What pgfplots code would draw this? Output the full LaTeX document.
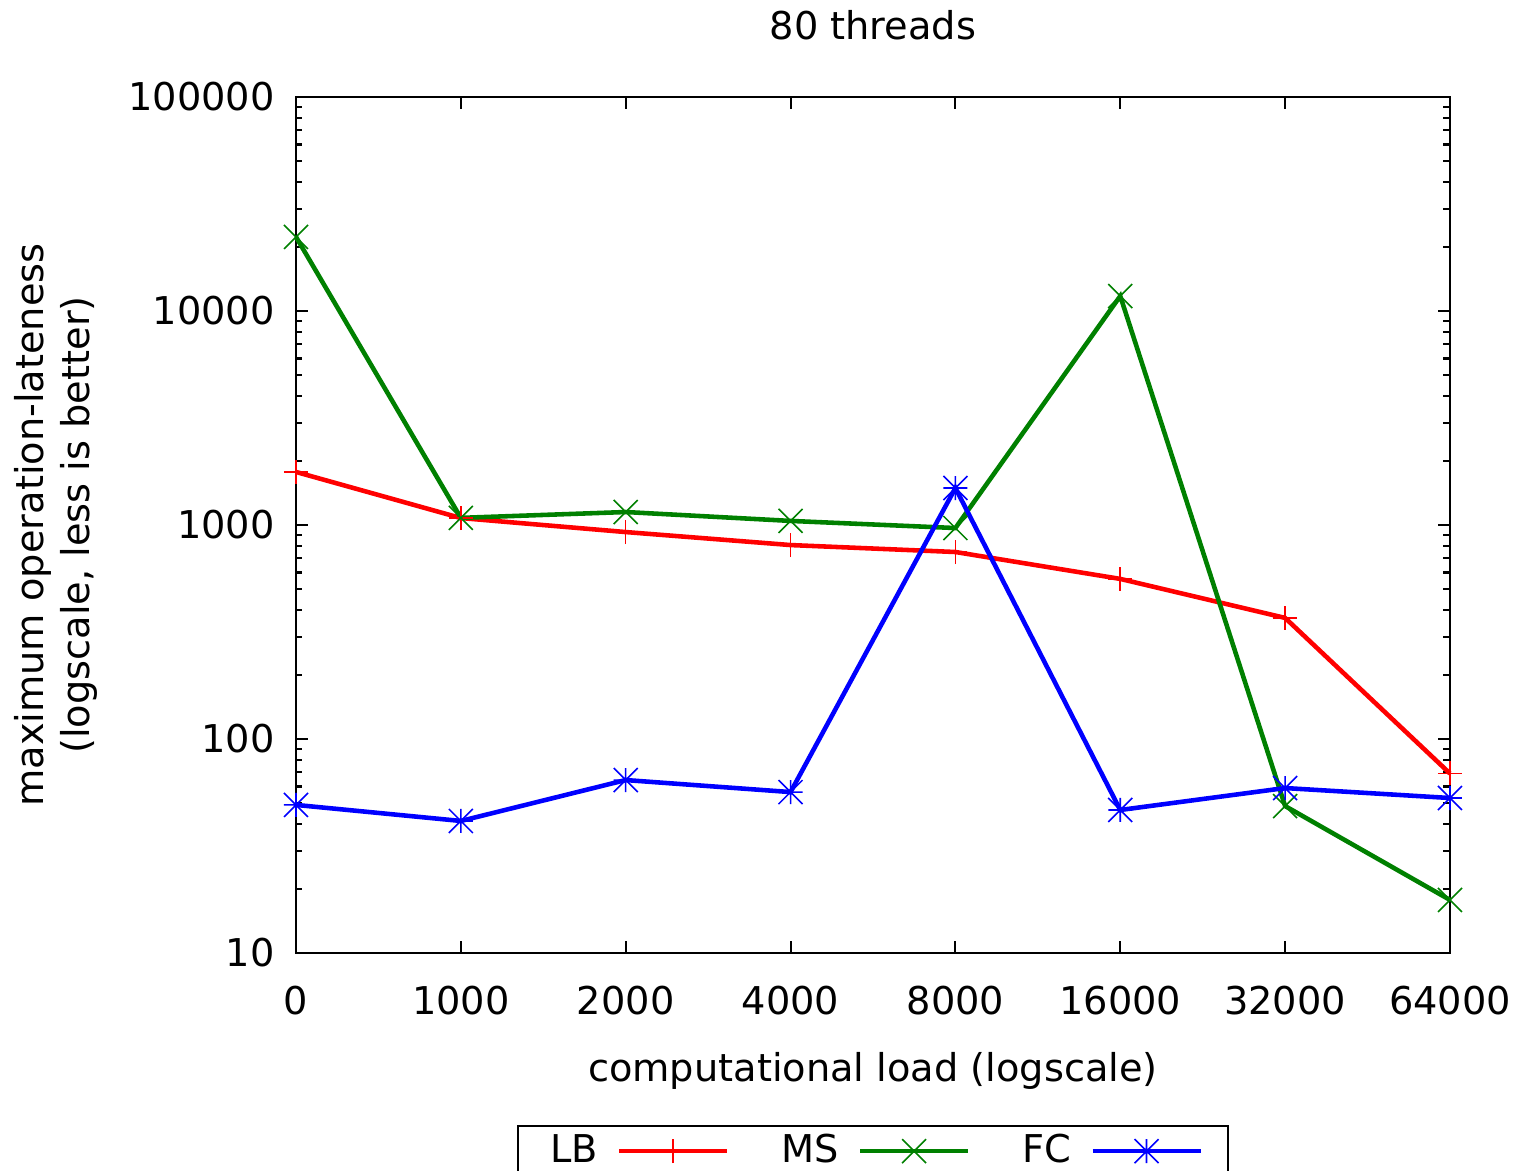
\documentclass[border=0pt]{standalone}
\usepackage{fontspec}
\setmainfont{DejaVu Sans}
\usepackage{pgfplots}
\pgfplotsset{compat=1.18}

\definecolor{gpred}{HTML}{FF0000}
\definecolor{gpgreen}{HTML}{008000}
\definecolor{gpblue}{HTML}{0000FF}

% gnuplot style point marks
\pgfdeclareplotmark{gpplus}{%
  \pgfpathmoveto{\pgfqpoint{-\pgfplotmarksize}{0pt}}\pgfpathlineto{\pgfqpoint{\pgfplotmarksize}{0pt}}%
  \pgfpathmoveto{\pgfqpoint{0pt}{-\pgfplotmarksize}}\pgfpathlineto{\pgfqpoint{0pt}{\pgfplotmarksize}}%
  \pgfusepathqstroke}
\pgfdeclareplotmark{gpcross}{%
  \pgfpathmoveto{\pgfqpoint{-\pgfplotmarksize}{-\pgfplotmarksize}}\pgfpathlineto{\pgfqpoint{\pgfplotmarksize}{\pgfplotmarksize}}%
  \pgfpathmoveto{\pgfqpoint{-\pgfplotmarksize}{\pgfplotmarksize}}\pgfpathlineto{\pgfqpoint{\pgfplotmarksize}{-\pgfplotmarksize}}%
  \pgfusepathqstroke}
\pgfdeclareplotmark{gpstar}{%
  \pgfpathmoveto{\pgfqpoint{-\pgfplotmarksize}{0pt}}\pgfpathlineto{\pgfqpoint{\pgfplotmarksize}{0pt}}%
  \pgfpathmoveto{\pgfqpoint{0pt}{-\pgfplotmarksize}}\pgfpathlineto{\pgfqpoint{0pt}{\pgfplotmarksize}}%
  \pgfpathmoveto{\pgfqpoint{-\pgfplotmarksize}{-\pgfplotmarksize}}\pgfpathlineto{\pgfqpoint{\pgfplotmarksize}{\pgfplotmarksize}}%
  \pgfpathmoveto{\pgfqpoint{-\pgfplotmarksize}{\pgfplotmarksize}}\pgfpathlineto{\pgfqpoint{\pgfplotmarksize}{-\pgfplotmarksize}}%
  \pgfusepathqstroke}

\begin{document}
\fontsize{10.9}{13}\selectfont
\begin{tikzpicture}[font=\fontsize{10.9}{13}\selectfont]
\begin{axis}[
  scale only axis, width=11.54cm, height=8.56cm,
  at={(0,0)}, anchor=south west,
  ymode=log, ymin=10, ymax=100000,
  xmin=0, xmax=7,
  xtick={0,1,2,3,4,5,6,7},
  xticklabels={0,1000,2000,4000,8000,16000,32000,64000},
  ytick={10,100,1000,10000,100000},
  yticklabels={10,100,1000,10000,100000},
  tick align=inside, tick pos=both,
  major tick length=0.12cm, minor tick length=0.065cm,
  axis line style={line width=0.6pt},
  every tick/.style={black, line width=0.6pt},
  /pgf/number format/assume math mode=true,
  xticklabel style={yshift=-0.2cm},
  yticklabel style={xshift=-0.08cm},
  title={80 threads},
  every axis title shift=0pt,
  title style={at={(axis description cs:0.5,1.0841)}, anchor=center},
  xlabel={computational load (logscale)},
  xlabel style={at={(axis description cs:0.5,-0.1375)}, anchor=center},
  ylabel={maximum operation-lateness\\(logscale, less is better)},
  ylabel style={at={(axis description cs:-0.208,0.5)}, anchor=center, align=center},
  clip=false,
  legend columns=3, legend plot pos=right,
  legend style={at={(0.5,-0.2009)}, anchor=north, draw=black, line width=0.6pt,
    inner xsep=0.25cm, inner ysep=0.01cm,
    /tikz/every odd column/.append style={column sep=0.12cm},
    /tikz/every even column/.append style={column sep=0.45cm}},
  legend image code/.code={\draw[#1, mark repeat=2, mark phase=2] plot coordinates {(0cm,0cm) (0.54cm,0cm) (1.08cm,0cm)};},
  every axis plot/.append style={line width=1.3pt, mark size=0.12cm, mark options={line width=0.45pt}},
]
\addplot[color=gpred, mark=gpplus] coordinates {
  (0,1770) (1,1078) (2,927) (3,806) (4,748) (5,560) (6,368) (7,69)};
\addlegendentry{LB}
\addplot[color=gpgreen, mark=gpcross] coordinates {
  (0,22200) (1,1080) (2,1150) (3,1045) (4,968) (5,11750) (6,48.6) (7,17.7)};
\addlegendentry{MS}
\addplot[color=gpblue, mark=gpstar] coordinates {
  (0,49.2) (1,41.4) (2,64.3) (3,56.5) (4,1489) (5,46.6) (6,59) (7,53)};
\addlegendentry{FC}
\end{axis}
\pgfresetboundingbox
\path[use as bounding box] (-2.96cm,-2.18cm) rectangle (12.21cm,9.53cm);
\end{tikzpicture}
\end{document}
